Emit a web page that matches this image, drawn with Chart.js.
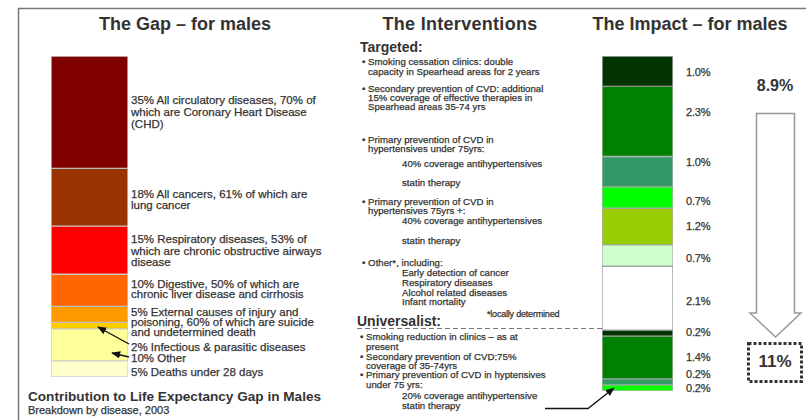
<!DOCTYPE html>
<html>
<head>
<meta charset="utf-8">
<script src="https://cdn.jsdelivr.net/npm/chart.js@4"></script>
<style>
  html,body{margin:0;padding:0;background:#fff;}
  #wrap{position:relative;width:806px;height:420px;overflow:hidden;background:#fff;font-family:"Liberation Sans",Arial,sans-serif;color:#333;}
  .t{position:absolute;white-space:nowrap;-webkit-text-stroke:0.25px #333;}
  canvas{position:absolute;z-index:1;}
  svg{position:absolute;left:0;top:0;z-index:2;pointer-events:none;}
</style>
</head>
<body>
<div id="wrap">
  <canvas id="gap" width="77" height="321" style="left:51px;top:56px;"></canvas>
  <canvas id="impact" width="71" height="335" style="left:602px;top:56px;"></canvas>
  <svg id="deco" width="806" height="420"></svg>
</div>
<script>
// ---------- DATA ----------
const gapCategories = [
  "35% All circulatory diseases, 70% of\nwhich are Coronary Heart Disease\n(CHD)",
  "18% All cancers, 61% of which are\nlung cancer",
  "15% Respiratory diseases, 53% of\nwhich are chronic obstructive airways\ndisease",
  "10% Digestive, 50% of which are\nchronic liver disease and cirrhosis",
  "5% External causes of injury and\npoisoning,  60% of which are suicide\nand undetermined death",
  "2% Infectious & parasitic diseases",
  "10% Other",
  "5% Deaths under 28 days"
];
const gapValues = [35, 18, 15, 10, 5, 2, 10, 5];
const gapColors = ["#800000", "#993300", "#FF0000", "#FF6600", "#FF9900", "#FFCC00", "#FFFF99", "#FFFFCC"];

const impactCategories = [
  "Smoking cessation clinics (targeted)",
  "Secondary prevention of CVD (targeted)",
  "Primary prevention <75 antihypertensives",
  "Primary prevention <75 statin therapy",
  "Primary prevention 75+ antihypertensives",
  "Primary prevention 75+ statin therapy",
  "Other (locally determined)",
  "Smoking reduction (universalist)",
  "Secondary prevention of CVD (universalist)",
  "Primary prevention antihypertensive (universalist)",
  "Primary prevention statin (universalist)"
];
const impactValues = [1.0, 2.3, 1.0, 0.7, 1.2, 0.7, 2.1, 0.2, 1.4, 0.2, 0.2];
const impactColors = ["#003300", "#008000", "#339966", "#00FF00", "#99CC00", "#CCFFCC", "#FFFFFF", "#003300", "#008000", "#339966", "#00FF00"];
const targetedTotal = "8.9%";
const overallTotal = "11%";

// ---------- LAYOUT ----------
const wrap = document.getElementById('wrap');
function T(x, y, text, size, opts) {
  opts = opts || {};
  const d = document.createElement('div');
  d.className = 't';
  const lh = opts.lh || Math.round(size * 1.15);
  d.style.fontSize = size + 'px';
  d.style.lineHeight = lh + 'px';
  d.style.height = lh + 'px';
  d.style.top = (y - lh / 2) + 'px';
  if (opts.center) { d.style.left = (x - 300) + 'px'; d.style.width = '600px'; d.style.textAlign = 'center'; }
  else d.style.left = x + 'px';
  if (opts.bold) { d.style.fontWeight = 'bold'; d.style.webkitTextStroke = '0px'; }
  if (opts.ls !== undefined) d.style.letterSpacing = opts.ls + 'px';
  if (opts.color) d.style.color = opts.color;
  d.textContent = text;
  wrap.appendChild(d);
  return d;
}

// titles
T(185, 24, "The Gap \u2013 for males", 18, {bold: true, center: true});
T(460, 24, "The Interventions", 18, {bold: true, center: true, ls: 0.3});
T(690, 24, "The Impact \u2013 for males", 18, {bold: true, center: true});

// gap labels
const gapLabelY = [[100, 112, 124], [194, 205], [239, 251, 262], [284, 294], [312, 322, 332], [347], [358], [372]];
gapCategories.forEach((c, i) => {
  c.split('\n').forEach((line, j) => T(131, gapLabelY[i][j], line, 11.5, {lh: 10}));
});
T(28, 397, "Contribution to Life Expectancy Gap in Males", 13.6, {bold: true, lh: 14});
T(28, 410, "Breakdown by disease, 2003", 11, {lh: 11});

// impact labels
const impactLabelY = [72, 112, 162, 201, 226, 258, 301, 332, 357, 374, 388];
impactValues.forEach((v, i) => T(686, impactLabelY[i], v.toFixed(1) + '%', 11, {ls: -0.2, lh: 10}));
T(775, 86, targetedTotal, 16, {bold: true, center: true});
T(775, 362, overallTotal, 17, {bold: true, center: true});

// interventions text
const MS = 9.6, MLS = 0.05;
T(360, 47, "Targeted:", 14, {bold: true, lh: 14});
const mid = [
  [362, 61, "\u2022 Smoking cessation clinics: double"],
  [368, 71, "capacity in Spearhead areas for 2 years"],
  [362, 88, "\u2022 Secondary prevention of CVD: additional"],
  [368, 97, "15% coverage of effective therapies in"],
  [368, 106, "Spearhead areas 35-74 yrs"],
  [362, 139, "\u2022 Primary prevention of CVD in"],
  [368, 148, "hypertensives under 75yrs:"],
  [402, 163, "40% coverage antihypertensives"],
  [402, 182, "statin therapy"],
  [362, 201, "\u2022 Primary prevention of CVD in"],
  [368, 210, "hypertensives 75yrs +:"],
  [402, 220, "40% coverage antihypertensives"],
  [402, 240, "statin therapy"],
  [362, 262, "\u2022 Other*, including:"],
  [402, 272, "Early detection of cancer"],
  [402, 282, "Respiratory diseases"],
  [402, 292, "Alcohol related diseases"],
  [402, 301, "Infant mortality"],
  [360, 336, "\u2022 Smoking reduction in clinics \u2013 as at"],
  [366, 346, "present"],
  [360, 356, "\u2022 Secondary prevention of CVD:75%"],
  [366, 365, "coverage of 35-74yrs"],
  [360, 374, "\u2022 Primary prevention of CVD in hyptensives"],
  [366, 384, "under 75 yrs:"],
  [402, 395, "20% coverage antihypertensive"],
  [402, 405, "statin therapy"]
];
mid.forEach(m => T(m[0], m[1], m[2], MS, {ls: MLS, lh: 9}));
T(487, 314, "*locally determined", 9, {ls: -0.2, lh: 9});
T(357, 321, "Universalist:", 14, {bold: true, lh: 13});

// decorations
const svg = document.getElementById('deco');
svg.innerHTML = `
<defs>
  <marker id="ah" viewBox="0 0 10 10" refX="9" refY="5" markerWidth="7" markerHeight="7" orient="auto-start-reverse">
    <path d="M0,1 L10,5 L0,9 z" fill="#111"/>
  </marker>
</defs>
<line x1="18.5" y1="8" x2="18.5" y2="420" stroke="#777" stroke-width="1.5"/>
<line x1="18" y1="8.5" x2="806" y2="8.5" stroke="#777" stroke-width="1.5"/>
<line x1="129" y1="344" x2="98" y2="327" stroke="#111" stroke-width="1.3" marker-end="url(#ah)"/>
<line x1="129" y1="357" x2="112" y2="353" stroke="#111" stroke-width="1.3" marker-end="url(#ah)"/>
<line x1="357" y1="328.5" x2="602" y2="328.5" stroke="#777" stroke-width="1" stroke-dasharray="5 3"/>
<polyline points="545,408.5 588,408.5 614,388" fill="none" stroke="#111" stroke-width="1.3" marker-end="url(#ah)"/>
<polygon points="756.5,113.5 794.5,113.5 794.5,313 801,313 775.5,337 750,313 756.5,313" fill="#fff" stroke="#999" stroke-width="1.5"/>
<rect x="748.5" y="343.5" width="53" height="38" fill="none" stroke="#333" stroke-width="3" stroke-dasharray="3 2"/>
`;

// ---------- CHARTS ----------
function stackChart(id, values, colors, max, borderFor) {
  return new Chart(document.getElementById(id), {
    type: 'bar',
    data: {
      labels: [''],
      datasets: values.map((v, i) => ({
        data: [v],
        backgroundColor: colors[i],
        borderColor: borderFor(i),
        borderWidth: 1,
        borderSkipped: false,
        barPercentage: 1,
        categoryPercentage: 1
      }))
    },
    options: {
      responsive: false,
      animation: false,
      maintainAspectRatio: false,
      layout: {padding: 0},
      plugins: {legend: {display: false}, tooltip: {enabled: false}},
      scales: {
        x: {stacked: true, display: false},
        y: {stacked: true, display: false, min: 0, max: max, reverse: true}
      }
    }
  });
}
stackChart('gap', gapValues, gapColors, 100, () => 'rgba(120,120,120,0.35)');
stackChart('impact', impactValues, impactColors, 11, (i) => impactColors[i] === '#FFFFFF' ? '#999' : 'rgba(0,0,0,0.3)');
</script>
</body>
</html>
